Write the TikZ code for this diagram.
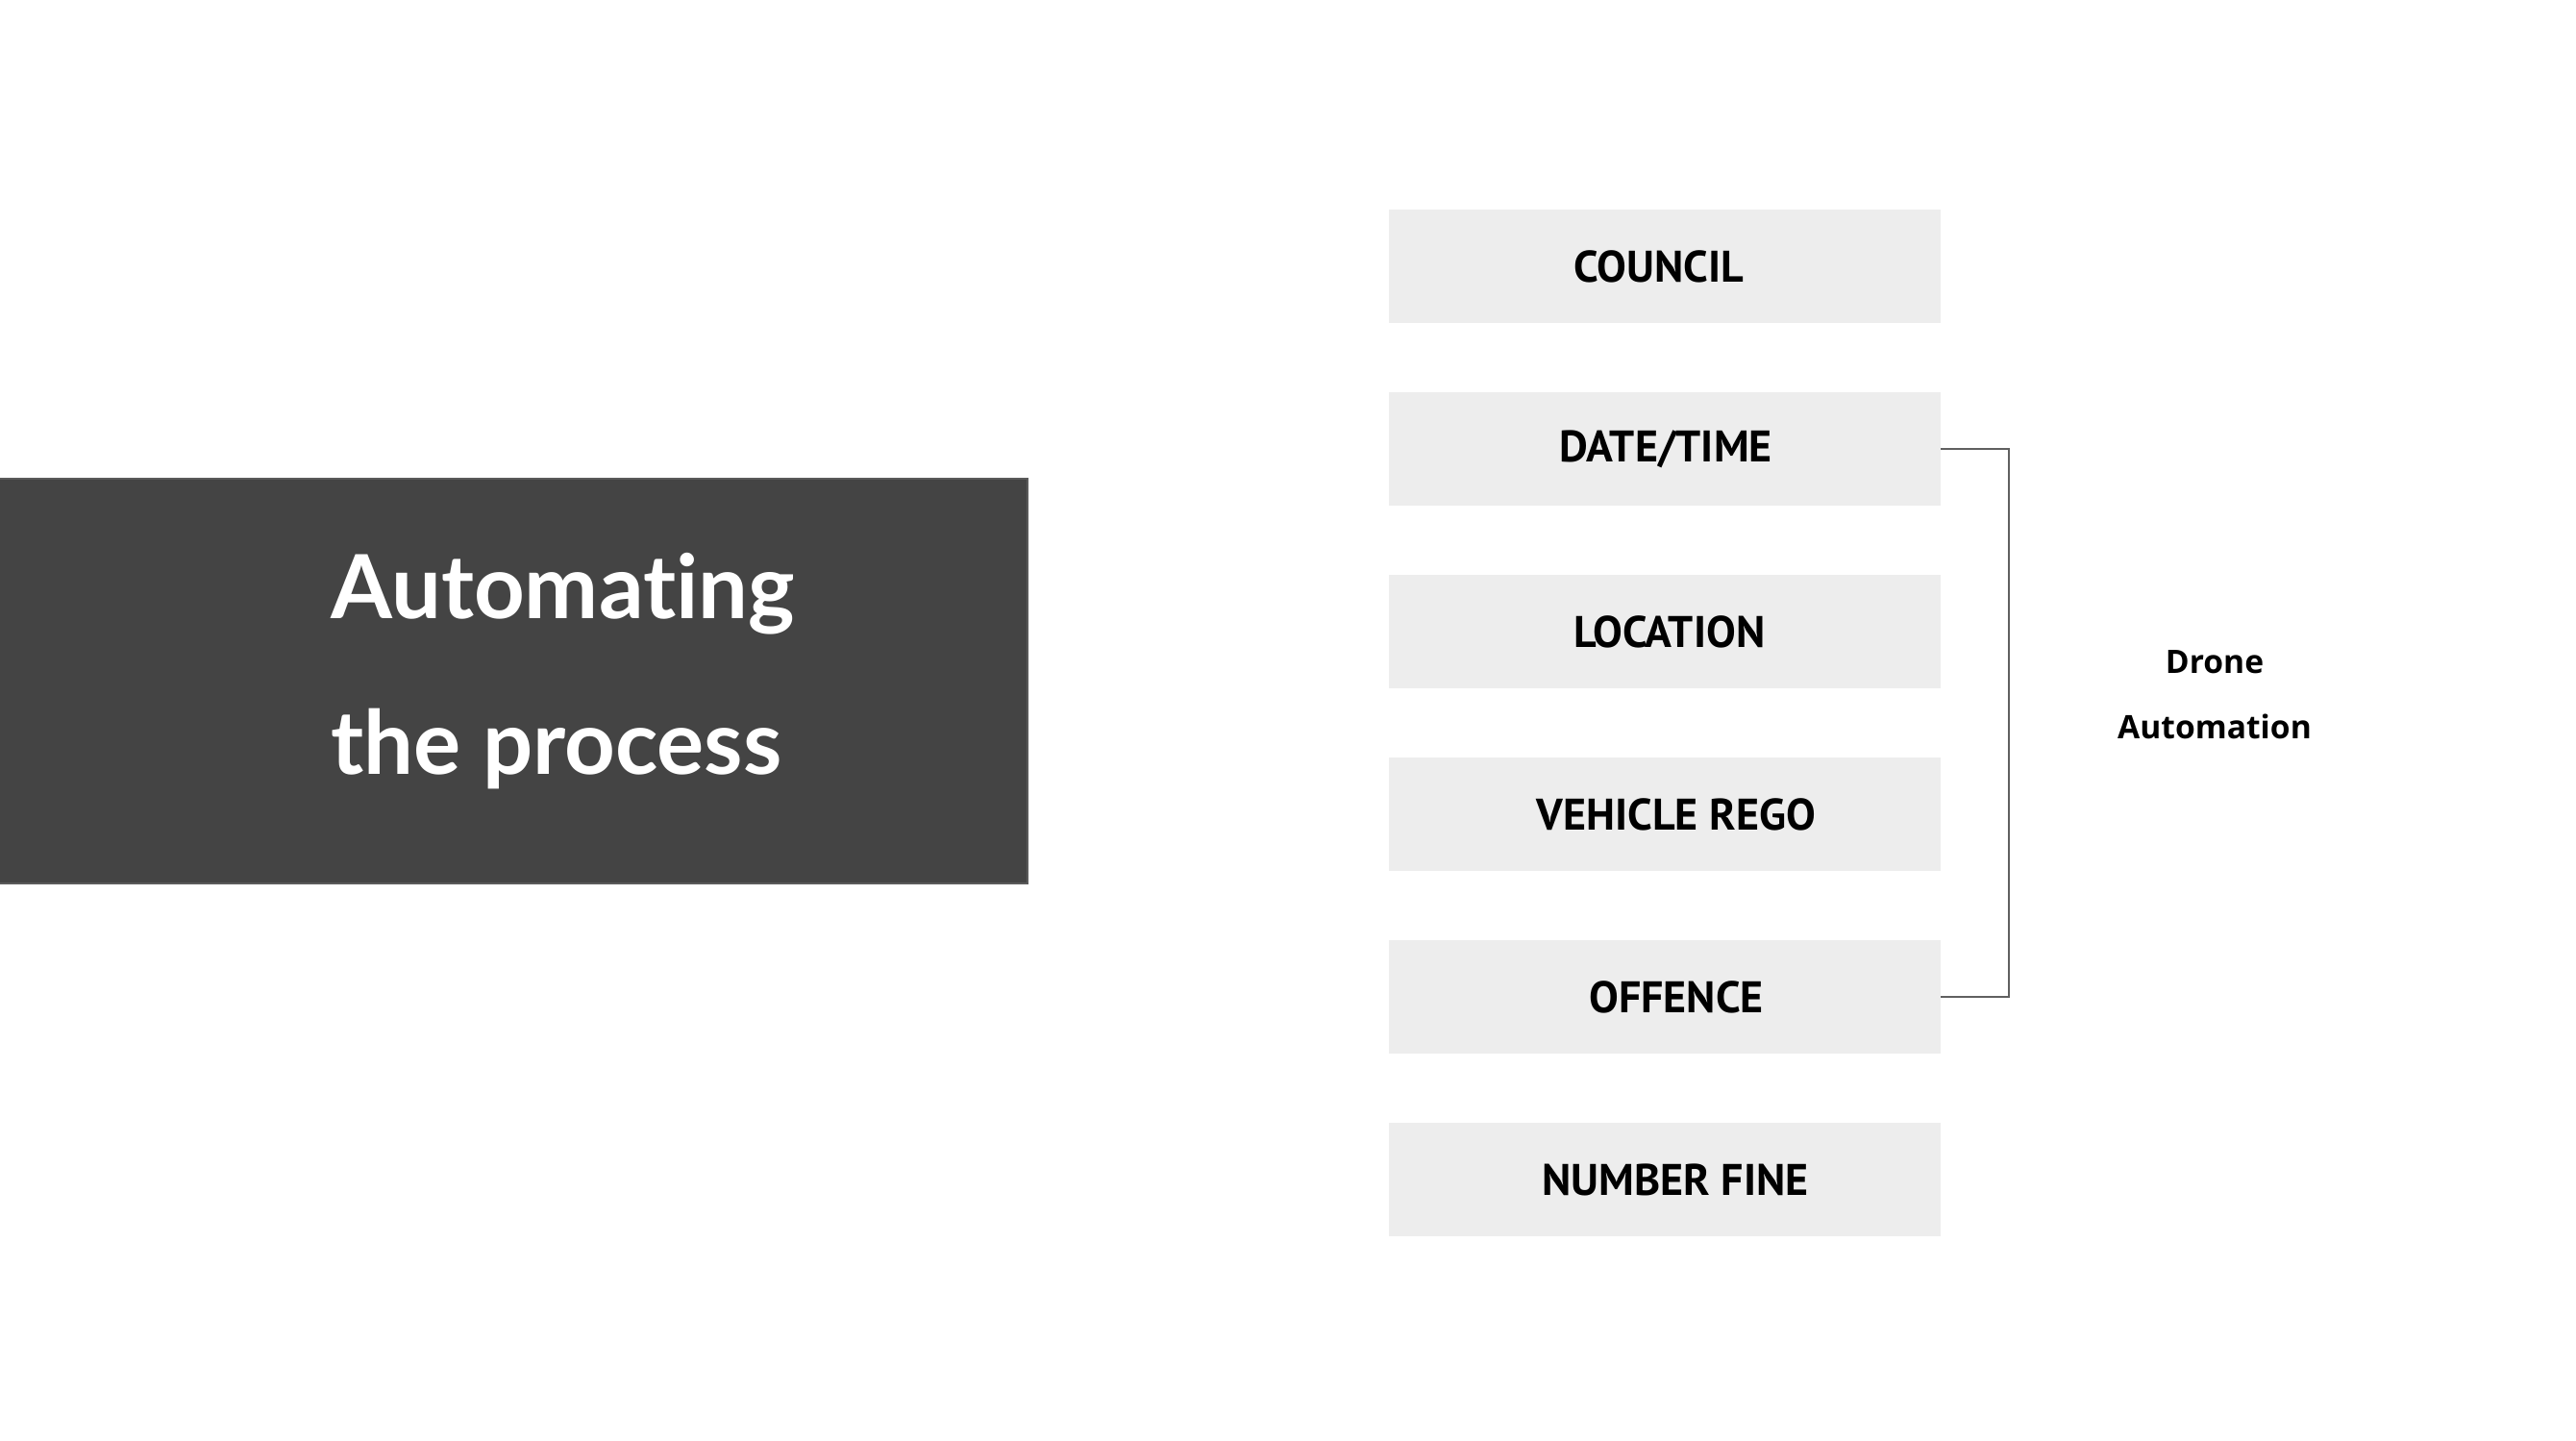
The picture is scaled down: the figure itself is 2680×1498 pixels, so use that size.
\documentclass[tikz,border=0pt]{standalone}
\usepackage{fontspec}
\newfontfamily\titlefont{Lato}[Ligatures=NoCommon]
\newfontfamily\boxfont{PT Sans}
\newfontfamily\dronefont{Open Sans}
\definecolor{darkbox}{HTML}{444444}
\definecolor{darkedge}{HTML}{5A5A5A}
\definecolor{lightbox}{HTML}{EDEDED}
\definecolor{bracketgray}{HTML}{606060}
\begin{document}
\begin{tikzpicture}[x=0.5pt,y=-0.5pt,
  field/.style={fill=lightbox, draw=none, minimum width=287pt, minimum height=59pt, inner sep=0pt},
  fieldtext/.style={inner sep=0pt, font=\boxfont\bfseries\fontsize{23}{28}\selectfont, text=black},
  titletext/.style={anchor=base west, inner sep=0pt, text=white, font=\titlefont\bfseries\fontsize{46}{55}\selectfont},
  dronetext/.style={anchor=base, inner sep=0pt, text=black, font=\dronefont\bfseries\fontsize{16.8}{20}\selectfont},
  bracket/.style={draw=bracketgray, line width=1.4pt}]
\useasboundingbox (0,0) rectangle (2680,1498);
\fill[white] (0,0) rectangle (2680,1498);
% title block
\draw[fill=darkbox, draw=darkedge, line width=1pt] (-5,498) rectangle (1069,919);
\node[titletext] (t1) at (344,643) {Automating};
\node[titletext] (t2) at (344,805) {the process};
% fields
\node[field] (council) at (1732,277) {};
\node[field] (datetime) at (1732,467) {};
\node[field] (location) at (1732,657) {};
\node[field] (vehicle) at (1732,847) {};
\node[field] (offence) at (1732,1037) {};
\node[field] (fine) at (1732,1227) {};
\node[fieldtext, xshift=-3pt] (councilt) at (council.center) {COUNCIL};
\node[fieldtext, xshift=0.5pt] (datetimet) at (datetime.center) {DATE/TIME};
\node[fieldtext, xshift=2.5pt] (locationt) at (location.center) {LOCATION};
\node[fieldtext, xshift=6pt] (vehiclet) at (vehicle.center) {VEHICLE REGO};
\node[fieldtext, xshift=6pt] (offencet) at (offence.center) {OFFENCE};
\node[fieldtext, xshift=5.5pt] (finet) at (fine.center) {NUMBER FINE};
% bracket
\coordinate (bk) at (2090,467);
\draw[bracket] (datetime.east) -- (bk) |- (offence.east);
% label
\node[dronetext] (drone1) at (2304,700) {Drone};
\node[dronetext] (drone2) at (2304,768) {Automation};
\end{tikzpicture}
\end{document}
